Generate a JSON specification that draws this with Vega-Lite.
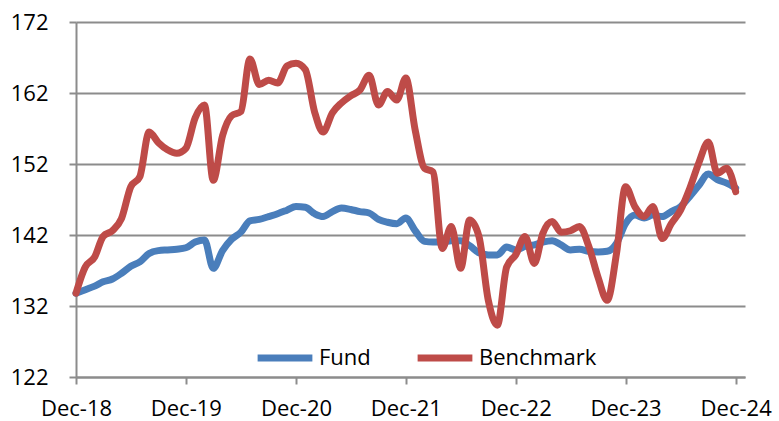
{
  "$schema": "https://vega.github.io/schema/vega-lite/v6.json",
  "width": 669,
  "height": 355,
  "autosize": {"type": "none"},
  "padding": {"left": 76, "top": 22, "right": 34, "bottom": 44},
  "background": "white",
  "config": {"view": {"stroke": null}, "font": "Open Sans"},
  "data": {"values": [
    {"date": "2018-12-01", "series": "Fund", "value": 133.8},
    {"date": "2019-01-01", "series": "Fund", "value": 134.3},
    {"date": "2019-02-01", "series": "Fund", "value": 134.8},
    {"date": "2019-03-01", "series": "Fund", "value": 135.4},
    {"date": "2019-04-01", "series": "Fund", "value": 135.8},
    {"date": "2019-05-01", "series": "Fund", "value": 136.6},
    {"date": "2019-06-01", "series": "Fund", "value": 137.6},
    {"date": "2019-07-01", "series": "Fund", "value": 138.2},
    {"date": "2019-08-01", "series": "Fund", "value": 139.4},
    {"date": "2019-09-01", "series": "Fund", "value": 139.8},
    {"date": "2019-10-01", "series": "Fund", "value": 139.9},
    {"date": "2019-11-01", "series": "Fund", "value": 140.0},
    {"date": "2019-12-01", "series": "Fund", "value": 140.2},
    {"date": "2020-01-01", "series": "Fund", "value": 141.0},
    {"date": "2020-02-01", "series": "Fund", "value": 141.3},
    {"date": "2020-03-01", "series": "Fund", "value": 137.3},
    {"date": "2020-04-01", "series": "Fund", "value": 139.8},
    {"date": "2020-05-01", "series": "Fund", "value": 141.4},
    {"date": "2020-06-01", "series": "Fund", "value": 142.4},
    {"date": "2020-07-01", "series": "Fund", "value": 144.0},
    {"date": "2020-08-01", "series": "Fund", "value": 144.2},
    {"date": "2020-09-01", "series": "Fund", "value": 144.6},
    {"date": "2020-10-01", "series": "Fund", "value": 145.0},
    {"date": "2020-11-01", "series": "Fund", "value": 145.5},
    {"date": "2020-12-01", "series": "Fund", "value": 146.0},
    {"date": "2021-01-01", "series": "Fund", "value": 145.9},
    {"date": "2021-02-01", "series": "Fund", "value": 145.0},
    {"date": "2021-03-01", "series": "Fund", "value": 144.6},
    {"date": "2021-04-01", "series": "Fund", "value": 145.3},
    {"date": "2021-05-01", "series": "Fund", "value": 145.8},
    {"date": "2021-06-01", "series": "Fund", "value": 145.6},
    {"date": "2021-07-01", "series": "Fund", "value": 145.3},
    {"date": "2021-08-01", "series": "Fund", "value": 145.1},
    {"date": "2021-09-01", "series": "Fund", "value": 144.2},
    {"date": "2021-10-01", "series": "Fund", "value": 143.8},
    {"date": "2021-11-01", "series": "Fund", "value": 143.6},
    {"date": "2021-12-01", "series": "Fund", "value": 144.4},
    {"date": "2022-01-01", "series": "Fund", "value": 142.6},
    {"date": "2022-02-01", "series": "Fund", "value": 141.1},
    {"date": "2022-03-01", "series": "Fund", "value": 141.0},
    {"date": "2022-04-01", "series": "Fund", "value": 141.0},
    {"date": "2022-05-01", "series": "Fund", "value": 141.2},
    {"date": "2022-06-01", "series": "Fund", "value": 141.2},
    {"date": "2022-07-01", "series": "Fund", "value": 140.5},
    {"date": "2022-08-01", "series": "Fund", "value": 139.5},
    {"date": "2022-09-01", "series": "Fund", "value": 139.2},
    {"date": "2022-10-01", "series": "Fund", "value": 139.2},
    {"date": "2022-11-01", "series": "Fund", "value": 140.3},
    {"date": "2022-12-01", "series": "Fund", "value": 139.9},
    {"date": "2023-01-01", "series": "Fund", "value": 140.4},
    {"date": "2023-02-01", "series": "Fund", "value": 140.6},
    {"date": "2023-03-01", "series": "Fund", "value": 141.0},
    {"date": "2023-04-01", "series": "Fund", "value": 141.2},
    {"date": "2023-05-01", "series": "Fund", "value": 140.6},
    {"date": "2023-06-01", "series": "Fund", "value": 139.9},
    {"date": "2023-07-01", "series": "Fund", "value": 140.0},
    {"date": "2023-08-01", "series": "Fund", "value": 139.7},
    {"date": "2023-09-01", "series": "Fund", "value": 139.6},
    {"date": "2023-10-01", "series": "Fund", "value": 139.7},
    {"date": "2023-11-01", "series": "Fund", "value": 140.8},
    {"date": "2023-12-01", "series": "Fund", "value": 143.6},
    {"date": "2024-01-01", "series": "Fund", "value": 144.8},
    {"date": "2024-02-01", "series": "Fund", "value": 144.4},
    {"date": "2024-03-01", "series": "Fund", "value": 144.8},
    {"date": "2024-04-01", "series": "Fund", "value": 144.6},
    {"date": "2024-05-01", "series": "Fund", "value": 145.3},
    {"date": "2024-06-01", "series": "Fund", "value": 146.0},
    {"date": "2024-07-01", "series": "Fund", "value": 147.4},
    {"date": "2024-08-01", "series": "Fund", "value": 149.0},
    {"date": "2024-09-01", "series": "Fund", "value": 150.6},
    {"date": "2024-10-01", "series": "Fund", "value": 149.8},
    {"date": "2024-11-01", "series": "Fund", "value": 149.3},
    {"date": "2024-12-01", "series": "Fund", "value": 148.6},
    {"date": "2018-12-01", "series": "Benchmark", "value": 133.8},
    {"date": "2019-01-01", "series": "Benchmark", "value": 137.5},
    {"date": "2019-02-01", "series": "Benchmark", "value": 138.9},
    {"date": "2019-03-01", "series": "Benchmark", "value": 141.8},
    {"date": "2019-04-01", "series": "Benchmark", "value": 142.6},
    {"date": "2019-05-01", "series": "Benchmark", "value": 144.3},
    {"date": "2019-06-01", "series": "Benchmark", "value": 148.8},
    {"date": "2019-07-01", "series": "Benchmark", "value": 150.2},
    {"date": "2019-08-01", "series": "Benchmark", "value": 156.5},
    {"date": "2019-09-01", "series": "Benchmark", "value": 155.0},
    {"date": "2019-10-01", "series": "Benchmark", "value": 154.0},
    {"date": "2019-11-01", "series": "Benchmark", "value": 153.5},
    {"date": "2019-12-01", "series": "Benchmark", "value": 154.2},
    {"date": "2020-01-01", "series": "Benchmark", "value": 158.5},
    {"date": "2020-02-01", "series": "Benchmark", "value": 160.3},
    {"date": "2020-03-01", "series": "Benchmark", "value": 149.7},
    {"date": "2020-04-01", "series": "Benchmark", "value": 156.0},
    {"date": "2020-05-01", "series": "Benchmark", "value": 158.8},
    {"date": "2020-06-01", "series": "Benchmark", "value": 159.4},
    {"date": "2020-07-01", "series": "Benchmark", "value": 166.8},
    {"date": "2020-08-01", "series": "Benchmark", "value": 163.2},
    {"date": "2020-09-01", "series": "Benchmark", "value": 163.8},
    {"date": "2020-10-01", "series": "Benchmark", "value": 163.4},
    {"date": "2020-11-01", "series": "Benchmark", "value": 165.8},
    {"date": "2020-12-01", "series": "Benchmark", "value": 166.2},
    {"date": "2021-01-01", "series": "Benchmark", "value": 165.3},
    {"date": "2021-02-01", "series": "Benchmark", "value": 159.3},
    {"date": "2021-03-01", "series": "Benchmark", "value": 156.5},
    {"date": "2021-04-01", "series": "Benchmark", "value": 159.2},
    {"date": "2021-05-01", "series": "Benchmark", "value": 160.6},
    {"date": "2021-06-01", "series": "Benchmark", "value": 161.6},
    {"date": "2021-07-01", "series": "Benchmark", "value": 162.4},
    {"date": "2021-08-01", "series": "Benchmark", "value": 164.5},
    {"date": "2021-09-01", "series": "Benchmark", "value": 160.3},
    {"date": "2021-10-01", "series": "Benchmark", "value": 162.2},
    {"date": "2021-11-01", "series": "Benchmark", "value": 161.0},
    {"date": "2021-12-01", "series": "Benchmark", "value": 164.1},
    {"date": "2022-01-01", "series": "Benchmark", "value": 156.8},
    {"date": "2022-02-01", "series": "Benchmark", "value": 151.4},
    {"date": "2022-03-01", "series": "Benchmark", "value": 150.9},
    {"date": "2022-04-01", "series": "Benchmark", "value": 140.1},
    {"date": "2022-05-01", "series": "Benchmark", "value": 143.2},
    {"date": "2022-06-01", "series": "Benchmark", "value": 137.3},
    {"date": "2022-07-01", "series": "Benchmark", "value": 144.1},
    {"date": "2022-08-01", "series": "Benchmark", "value": 141.8},
    {"date": "2022-09-01", "series": "Benchmark", "value": 132.8},
    {"date": "2022-10-01", "series": "Benchmark", "value": 129.3},
    {"date": "2022-11-01", "series": "Benchmark", "value": 137.5},
    {"date": "2022-12-01", "series": "Benchmark", "value": 139.2},
    {"date": "2023-01-01", "series": "Benchmark", "value": 141.8},
    {"date": "2023-02-01", "series": "Benchmark", "value": 138.0},
    {"date": "2023-03-01", "series": "Benchmark", "value": 142.2},
    {"date": "2023-04-01", "series": "Benchmark", "value": 143.9},
    {"date": "2023-05-01", "series": "Benchmark", "value": 142.4},
    {"date": "2023-06-01", "series": "Benchmark", "value": 142.6},
    {"date": "2023-07-01", "series": "Benchmark", "value": 143.2},
    {"date": "2023-08-01", "series": "Benchmark", "value": 140.4},
    {"date": "2023-09-01", "series": "Benchmark", "value": 136.0},
    {"date": "2023-10-01", "series": "Benchmark", "value": 132.8},
    {"date": "2023-11-01", "series": "Benchmark", "value": 139.4},
    {"date": "2023-12-01", "series": "Benchmark", "value": 148.8},
    {"date": "2024-01-01", "series": "Benchmark", "value": 146.0},
    {"date": "2024-02-01", "series": "Benchmark", "value": 144.6},
    {"date": "2024-03-01", "series": "Benchmark", "value": 146.0},
    {"date": "2024-04-01", "series": "Benchmark", "value": 141.5},
    {"date": "2024-05-01", "series": "Benchmark", "value": 143.6},
    {"date": "2024-06-01", "series": "Benchmark", "value": 145.5},
    {"date": "2024-07-01", "series": "Benchmark", "value": 148.5},
    {"date": "2024-08-01", "series": "Benchmark", "value": 152.2},
    {"date": "2024-09-01", "series": "Benchmark", "value": 155.1},
    {"date": "2024-10-01", "series": "Benchmark", "value": 150.7},
    {"date": "2024-11-01", "series": "Benchmark", "value": 151.4},
    {"date": "2024-12-01", "series": "Benchmark", "value": 148.1}
  ]},
  "mark": {"type": "line", "strokeWidth": 7, "interpolate": "monotone", "strokeCap": "round", "strokeJoin": "round"},
  "encoding": {
    "x": {
      "field": "date",
      "type": "temporal",
      "scale": {"type": "utc", "domain": [{"year": 2018, "month": 12, "date": 1, "utc": true}, {"year": 2025, "month": 1, "date": 1, "utc": true}], "nice": false},
      "axis": {
        "title": null,
        "values": [
          {"year": 2018, "month": 12, "date": 1, "utc": true},
          {"year": 2019, "month": 12, "date": 1, "utc": true},
          {"year": 2020, "month": 12, "date": 1, "utc": true},
          {"year": 2021, "month": 12, "date": 1, "utc": true},
          {"year": 2022, "month": 12, "date": 1, "utc": true},
          {"year": 2023, "month": 12, "date": 1, "utc": true},
          {"year": 2024, "month": 12, "date": 1, "utc": true}
        ],
        "labelExpr": "utcFormat(datum.value, '%b-%y')",
        "grid": false,
        "domainColor": "#8c8c8c",
        "domainWidth": 2,
        "tickColor": "#8c8c8c",
        "tickWidth": 2,
        "tickSize": 7,
        "labelFont": "Open Sans",
        "labelFontSize": 22,
        "labelColor": "#000000",
        "labelPadding": 14,
        "labelFlush": false,
        "labelOverlap": false
      }
    },
    "y": {
      "field": "value",
      "type": "quantitative",
      "scale": {"domain": [122, 172], "nice": false, "zero": false},
      "axis": {
        "title": null,
        "values": [122, 132, 142, 152, 162, 172],
        "grid": true,
        "gridColor": "#8c8c8c",
        "gridWidth": 2,
        "domainColor": "#8c8c8c",
        "domainWidth": 2,
        "tickColor": "#8c8c8c",
        "tickWidth": 2,
        "tickSize": 7,
        "labelFont": "Open Sans",
        "labelFontSize": 22,
        "labelColor": "#000000",
        "labelPadding": 21,
        "labelFlush": false
      }
    },
    "color": {
      "field": "series",
      "type": "nominal",
      "scale": {"domain": ["Fund", "Benchmark"], "range": ["#4A7EBB", "#BE4B48"]},
      "legend": {
        "title": null,
        "orient": "none",
        "legendX": 178,
        "legendY": 305,
        "direction": "horizontal",
        "symbolType": "stroke",
        "symbolSize": 3000,
        "symbolStrokeWidth": 7,
        "labelFont": "Open Sans",
        "labelFontSize": 22,
        "labelColor": "#000000",
        "labelOffset": 3,
        "columnPadding": 32
      }
    }
  }
}
